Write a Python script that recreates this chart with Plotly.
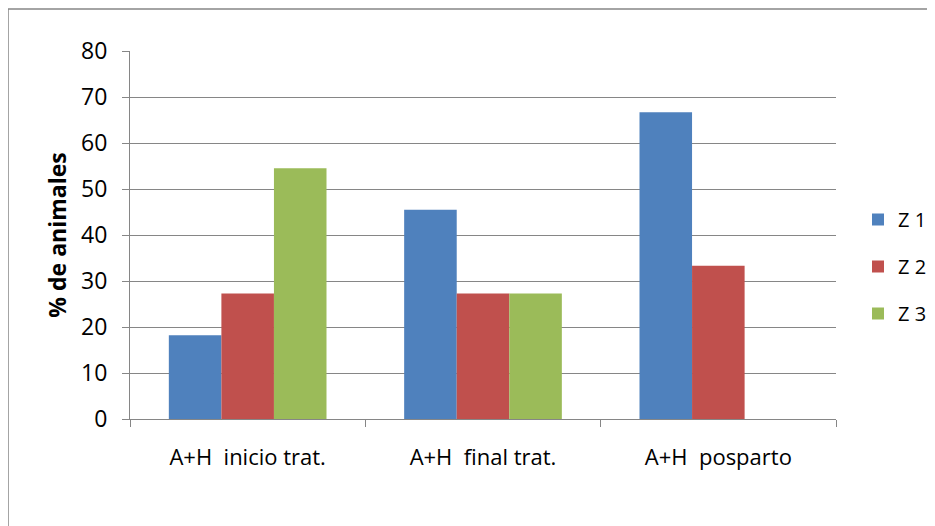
import plotly.graph_objects as go

categories = ["A+H  inicio trat.", "A+H  final trat.", "A+H  posparto"]
series_names = ["Z 1", "Z 2", "Z 3"]
z1 = [18.2, 45.5, 66.7]
z2 = [27.3, 27.3, 33.3]
z3 = [54.5, 27.3, 0]
colors = ["#4F81BD", "#C0504D", "#9BBB59"]

fig = go.Figure()
for name, vals, col in zip(series_names, [z1, z2, z3], colors):
    fig.add_trace(go.Bar(x=categories, y=vals, name=name, marker_color=col,
                         marker_line_width=0, legendgroup=name))

OFF = 8  # page body margin
W, H = 935, 526
L, T = 130 - OFF, 51 - OFF
pw, ph = 706, 368
R, B = W - L - pw, H - T - ph
def px(x): return (x - OFF - L) / pw
def py(y): return (H - B - (y - OFF)) / ph

fig.update_layout(
    width=W, height=H,
    margin=dict(l=L, r=R, t=T, b=B, autoexpand=False),
    paper_bgcolor="white", plot_bgcolor="white",
    barmode="group", bargap=0.33, bargroupgap=0,
    font=dict(family="Open Sans, DejaVu Sans, sans-serif", color="#000000"),
    legend=dict(x=px(858), y=py(200), xanchor="left", yanchor="top",
                font=dict(size=20), tracegroupgap=18, traceorder="grouped",
                itemwidth=30, bgcolor="rgba(0,0,0,0)"),
    showlegend=True,
)
fig.update_xaxes(
    showline=True, linecolor="#868686", linewidth=1,
    ticks="outside", tickson="boundaries", ticklen=7, tickcolor="#868686",
    tickfont=dict(size=22), ticklabelstandoff=19, showgrid=False,
)
fig.update_yaxes(
    range=[0, 80], dtick=10, showline=True, linecolor="#868686", linewidth=1,
    ticks="outside", ticklen=7, tickcolor="#868686",
    gridcolor="#868686", gridwidth=1, zeroline=False,
    tickfont=dict(size=23), ticklabelstandoff=10,
    title=dict(text="<b>% de animales</b>", font=dict(size=23), standoff=8),
)
fig.add_shape(type="rect", xref="paper", yref="paper",
              x0=px(8), x1=px(945), y0=py(540), y1=py(9),
              line=dict(color="#868686", width=1.5), fillcolor="rgba(0,0,0,0)", layer="below")

fig.write_html("out.html")
